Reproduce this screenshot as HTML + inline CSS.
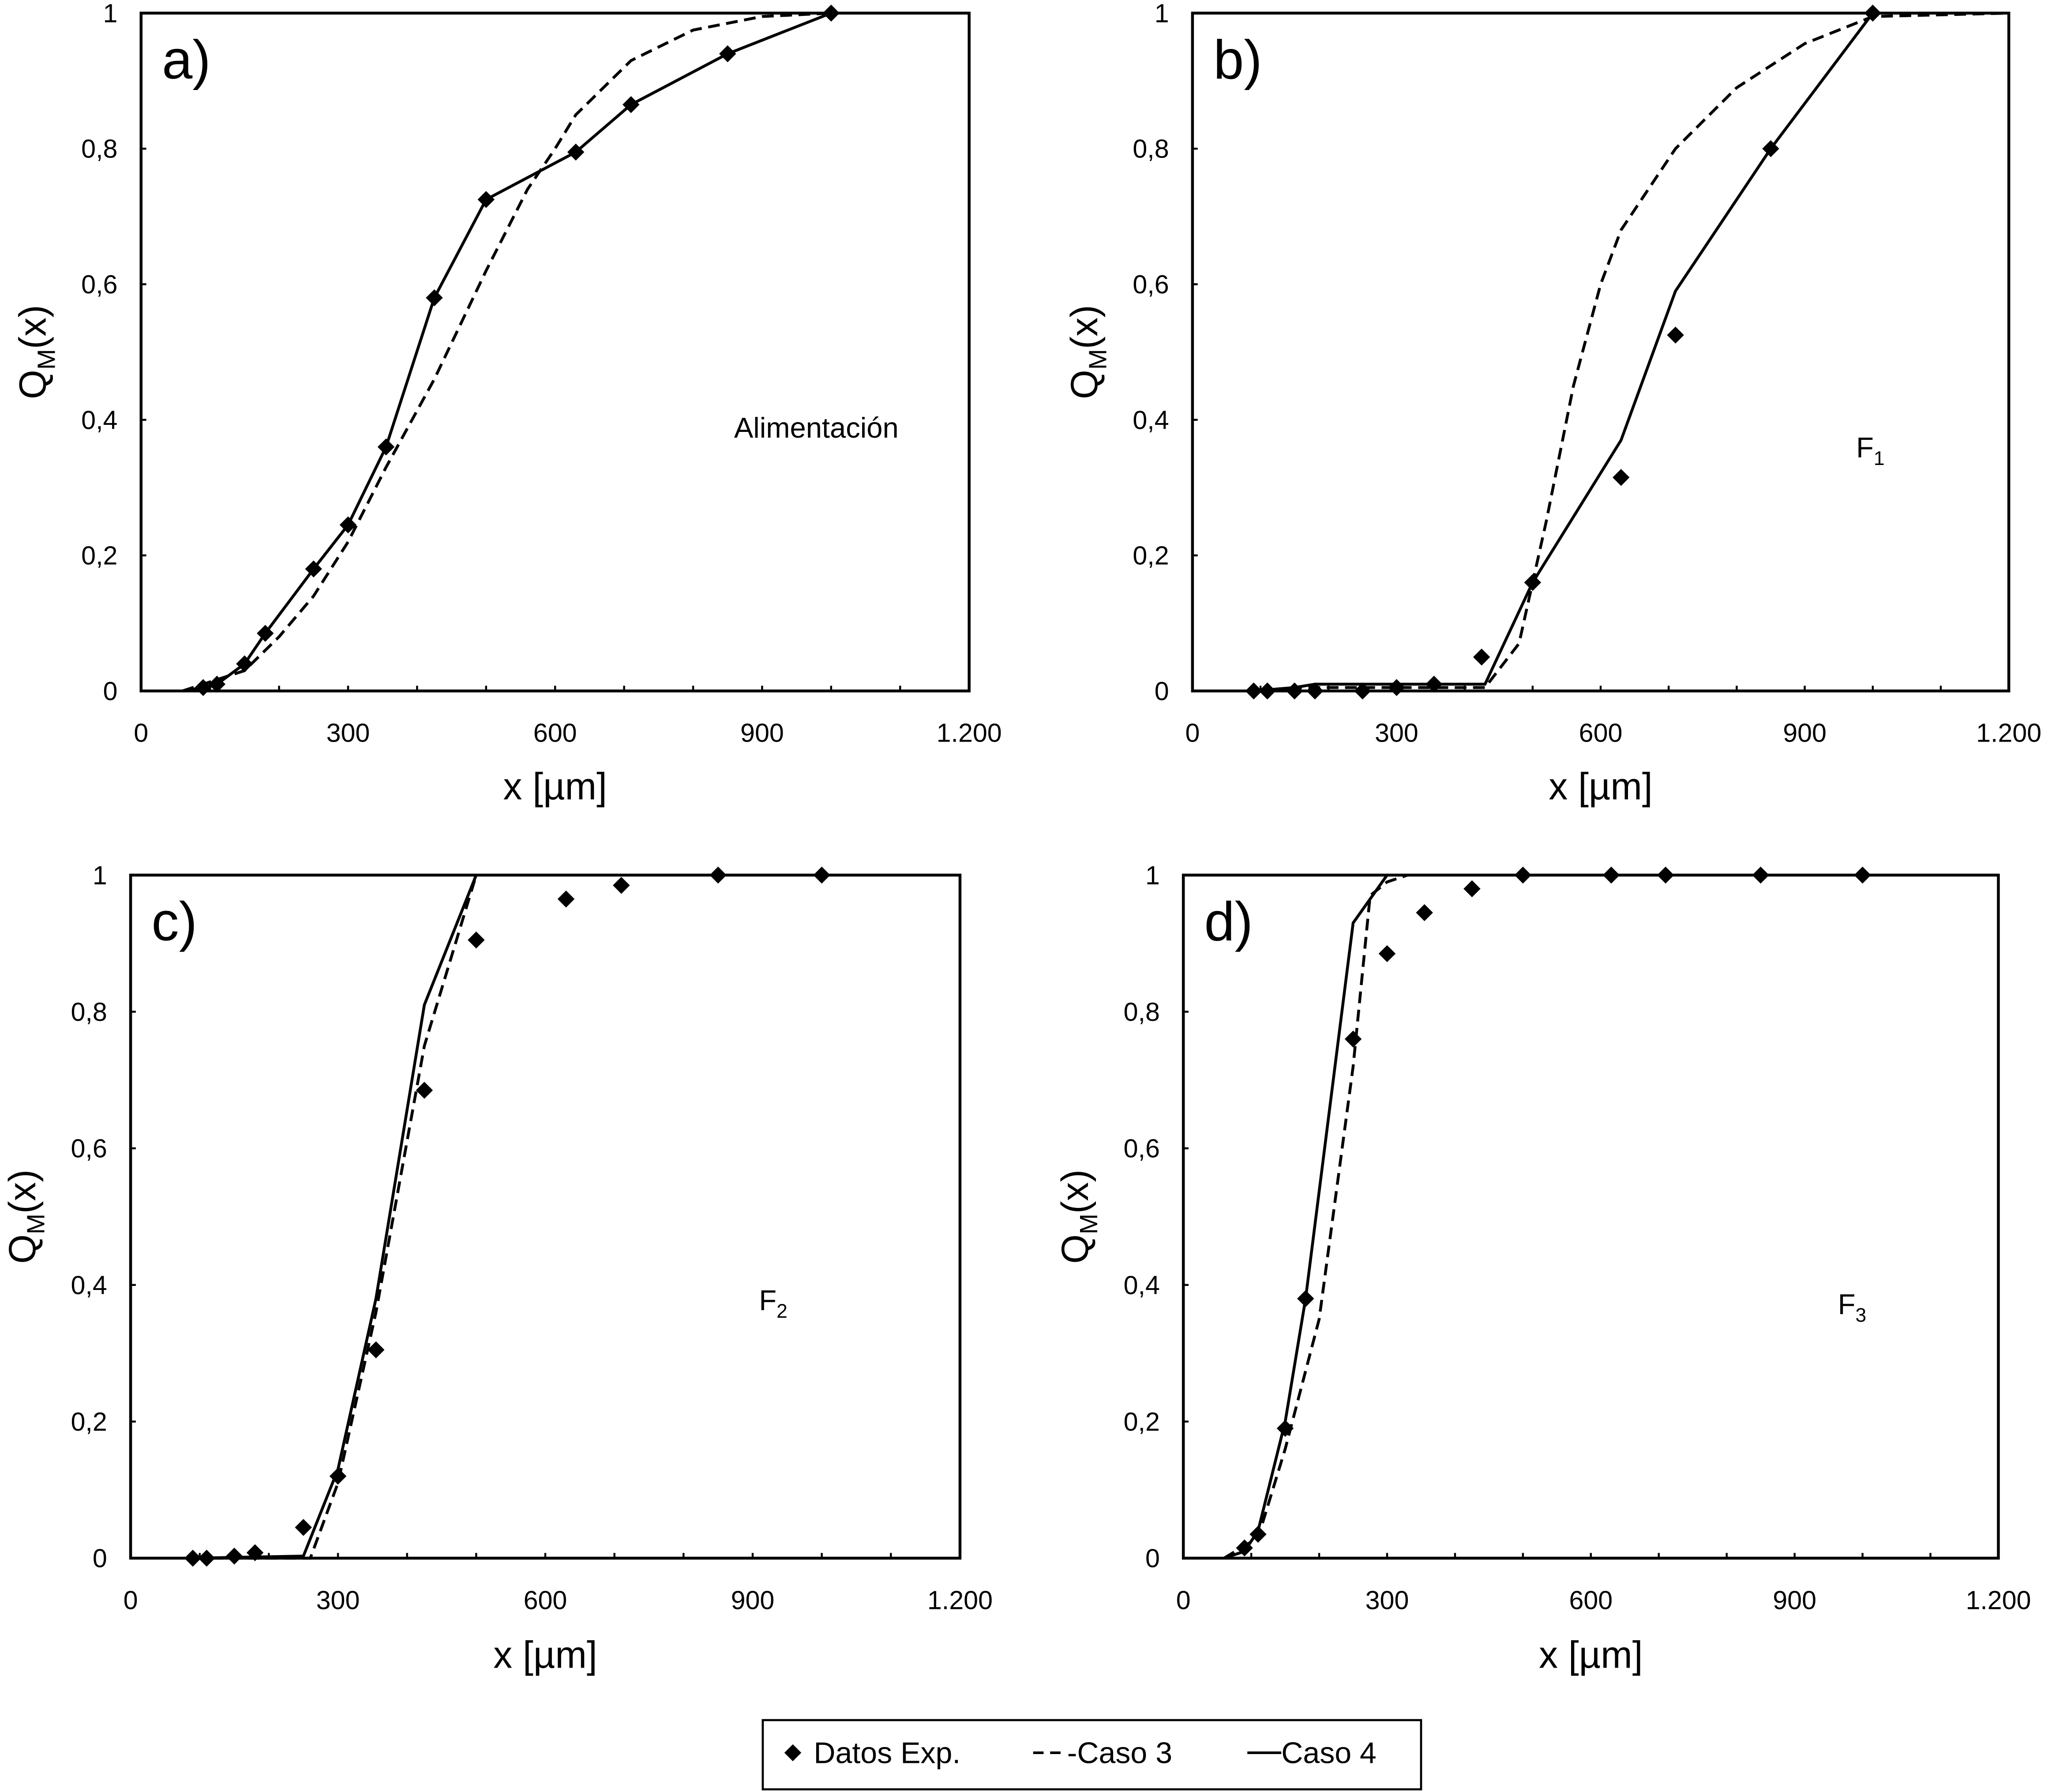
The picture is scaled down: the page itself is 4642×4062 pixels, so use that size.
<!DOCTYPE html>
<html><head><meta charset="utf-8"><style>
html,body{margin:0;padding:0;background:#fff;}
svg{display:block;}
text{font-family:"Liberation Sans",Arial,sans-serif;fill:#000;}
</style></head><body>
<svg id="fig" xmlns="http://www.w3.org/2000/svg" width="4642" height="4062" viewBox="0 0 1568 1372"></svg>
<script>
// ---- data ----
const xTicks = [0, 300, 600, 900, 1200];
const xTickLabels = ["0", "300", "600", "900", "1.200"];
const yTicks = [0, 0.2, 0.4, 0.6, 0.8, 1];
const yTickLabels = ["0", "0,2", "0,4", "0,6", "0,8", "1"];

const aExpX = [90,110,150,180,250,300,355,425,500,630,710,850,1000];
const aExpY = [0.005,0.01,0.04,0.085,0.18,0.245,0.36,0.58,0.725,0.795,0.865,0.94,1.0];
const aC3X = [60,150,200,250,300,355,425,500,560,600,630,710,800,900,1000,1200];
const aC3Y = [0,0.03,0.08,0.14,0.22,0.33,0.46,0.62,0.74,0.8,0.85,0.93,0.975,0.995,1,1];
const aC4X = [60,90,110,150,180,250,300,355,425,500,630,710,850,1000,1200];
const aC4Y = [0,0.005,0.01,0.04,0.085,0.18,0.245,0.36,0.58,0.725,0.795,0.865,0.94,1,1];

const bExpX = [90,110,150,180,250,300,355,425,500,630,710,850,1000];
const bExpY = [0,0,0,0,0,0.005,0.01,0.05,0.16,0.315,0.525,0.8,1];
const bC3X = [90,150,430,480,520,560,600,630,710,800,900,1000,1200];
const bC3Y = [0,0.005,0.005,0.07,0.25,0.45,0.6,0.68,0.8,0.89,0.955,0.995,1];
const bC4X = [90,150,180,430,500,630,710,850,1000,1200];
const bC4Y = [0,0.005,0.01,0.01,0.16,0.37,0.59,0.8,1,1];

const cExpX = [90,110,150,180,250,300,355,425,500,630,710,850,1000];
const cExpY = [0,0,0.003,0.008,0.045,0.12,0.305,0.685,0.905,0.965,0.985,1,1];
const cC3X = [90,260,300,355,425,500];
const cC3Y = [0,0,0.11,0.36,0.75,1];
const cC4X = [90,250,300,355,425,500];
const cC4Y = [0,0.003,0.13,0.38,0.81,1];

const dExpX = [90,110,150,180,250,300,355,425,500,630,710,850,1000];
const dExpY = [0.015,0.035,0.19,0.38,0.76,0.885,0.945,0.98,1,1,1,1,1];
const dC3X = [60,110,150,200,250,275,300,330];
const dC3Y = [0,0.03,0.16,0.35,0.72,0.97,0.99,1];
const dC4X = [60,90,110,150,180,250,300];
const dC4Y = [0,0.01,0.04,0.2,0.38,0.93,1];

const NS = "http://www.w3.org/2000/svg";
const svg = document.getElementById("fig");
function mk(tag, attrs, parent, txt) {
  const e = document.createElementNS(NS, tag);
  for (const k in attrs) e.setAttribute(k, attrs[k]);
  if (txt !== undefined) e.textContent = txt;
  (parent || svg).appendChild(e);
  return e;
}

const panels = [
  {id:"a", x0:108, x1:742, yTop:10, yBot:529, label:"a)", note:"Alimentación", nx:625, ny:335, sub:"",
   ex:aExpX, ey:aExpY, c3x:aC3X, c3y:aC3Y, c4x:aC4X, c4y:aC4Y, titleY:612},
  {id:"b", x0:913, x1:1538, yTop:10, yBot:529, label:"b)", note:"F", nx:1432, ny:350, sub:"1",
   ex:bExpX, ey:bExpY, c3x:bC3X, c3y:bC3Y, c4x:bC4X, c4y:bC4Y, titleY:612},
  {id:"c", x0:100, x1:735, yTop:670, yBot:1193, label:"c)", note:"F", nx:592, ny:1003, sub:"2",
   ex:cExpX, ey:cExpY, c3x:cC3X, c3y:cC3Y, c4x:cC4X, c4y:cC4Y, titleY:1277},
  {id:"d", x0:906, x1:1530, yTop:670, yBot:1193, label:"d)", note:"F", nx:1418, ny:1006, sub:"3",
   ex:dExpX, ey:dExpY, c3x:dC3X, c3y:dC3Y, c4x:dC4X, c4y:dC4Y, titleY:1277}
];

function diamond(cx, cy, r, parent) {
  return mk("polygon", {points:`${cx},${cy-r} ${cx+r},${cy} ${cx},${cy+r} ${cx-r},${cy}`, fill:"#000"}, parent);
}

panels.forEach(p => {
  const g = mk("g", {});
  
  
  const sx = v => p.x0 + (v / 1200) * (p.x1 - p.x0);
  const sy = v => p.yBot - v * (p.yBot - p.yTop);

  const box = mk("rect", {x:p.x0, y:p.yTop, width:p.x1-p.x0, height:p.yBot-p.yTop, fill:"none", stroke:"#000", "stroke-width":2.2}, g);
  
  

  for (let v = 100; v < 1200; v += 100) {
    mk("line", {x1:sx(v), x2:sx(v), y1:p.yBot, y2:p.yBot-4, stroke:"#000", "stroke-width":1.5}, g);
  }
  xTicks.forEach((v, i) => {
    const t = mk("text", {x:sx(v), y:p.yBot+39, "font-size":20, "text-anchor":"middle"}, g, xTickLabels[i]);
    
    
  });
  yTicks.forEach((v, i) => {
    mk("line", {x1:p.x0, x2:p.x0+4, y1:sy(v), y2:sy(v), stroke:"#000", "stroke-width":1.5}, g);
    const t = mk("text", {x:p.x0-18, y:sy(v)+7, "font-size":20, "text-anchor":"end"}, g, yTickLabels[i]);
    
    
  });

  const xt = mk("text", {x:(p.x0+p.x1)/2, y:p.titleY, "font-size":29, "text-anchor":"middle"}, g, "x [µm]");
  
  

  const cy = (p.yTop + p.yBot) / 2;
  const yt = mk("text", {x:0, y:0, "font-size":29, "text-anchor":"middle", transform:`translate(${p.x0-73},${cy}) rotate(-90)`}, g);
  
  
  yt.appendChild(document.createTextNode("Q"));
  mk("tspan", {"font-size":19, dy:7}, yt, "M");
  mk("tspan", {dy:-7}, yt, "(x)");

  const lb = mk("text", {x:p.x0+16, y:p.yTop+50, "font-size":42}, g, p.label);
  
  

  const nt = mk("text", {x:p.nx, y:p.ny, "font-size":22, "text-anchor":"middle"}, g, p.note);
  if (p.sub) mk("tspan", {"font-size":15, dy:6}, nt, p.sub);
  
  

  const d3 = p.c3x.map((v, i) => (i ? "L" : "M") + sx(v).toFixed(2) + "," + sy(p.c3y[i]).toFixed(2)).join(" ");
  const l3 = mk("path", {d:d3, fill:"none", stroke:"#000", "stroke-width":2.2, "stroke-dasharray":"9,5"}, g);
  
  

  const d4 = p.c4x.map((v, i) => (i ? "L" : "M") + sx(v).toFixed(2) + "," + sy(p.c4y[i]).toFixed(2)).join(" ");
  const l4 = mk("path", {d:d4, fill:"none", stroke:"#000", "stroke-width":2.2}, g);
  
  

  p.ex.forEach((v, i) => {
    const m = diamond(sx(v), sy(p.ey[i]), 6.5, g);
    
    
  });
});

// legend
const lg = mk("g", {});


mk("rect", {x:584, y:1317, width:504, height:53, fill:"#fff", stroke:"#000", "stroke-width":1.6}, lg);
const le1 = diamond(607, 1342, 6.5, lg);


const t1 = mk("text", {x:623, y:1350, "font-size":23}, lg, "Datos Exp.");


mk("line", {x1:791, x2:817, y1:1342, y2:1342, stroke:"#000", "stroke-width":2, "stroke-dasharray":"8,5"}, lg);
const t2 = mk("text", {x:817, y:1350, "font-size":23}, lg, "-Caso 3");


mk("line", {x1:955, x2:981, y1:1342, y2:1342, stroke:"#000", "stroke-width":2}, lg);
const t3 = mk("text", {x:981, y:1350, "font-size":23}, lg, "Caso 4");


</script>
</body></html>
